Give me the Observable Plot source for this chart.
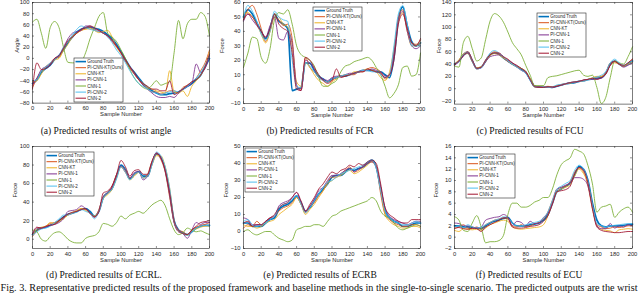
<!DOCTYPE html>
<html><head><meta charset="utf-8">
<script src="https://cdn.jsdelivr.net/npm/d3@7"></script>
<script src="https://cdn.jsdelivr.net/npm/@observablehq/plot@0.6"></script>
<style>
html,body{margin:0;padding:0;background:#fff;}
#fig{position:relative;width:640px;height:296px;overflow:hidden;background:#fff;}
#fig > svg{position:absolute;overflow:visible;}
</style></head><body><div id="fig"></div>
<script>
const sampleNumbers = [0,5,10,15,20,25,30,35,40,45,50,55,60,65,70,75,80,85,90,95,100,105,110,115,120,125,130,135,140,145,150,155,160,165,170,175,180,185,190,195,200];
const seriesNames = ["Ground Truth","PI-CNN-KT(Ours)","CNN-KT","PI-CNN-1","CNN-1","PI-CNN-2","CNN-2"];
const seriesColors = ["#0072BD","#D95319","#EDB120","#7E2F8E","#77AC30","#4DBEEE","#A2142F"];
const xTicks = [0,20,40,60,80,100,120,140,160,180,200];

// (a) wrist angle
const wristGT   = [-45,-38,-25,-18,-12,-2,5,15,28,38, 47,52,55,56,54,52,48,42,35,25, 12,-2,-15,-25,-35,-45,-52,-58,-62,-65, -65,-63,-62,-60,-55,-50,-45,-38,-30,-15, 0];
const wristPIKT = [-52,-36,-22,-15,-8,0,2,18,30,40, 45,50,53,55,50,48,45,40,30,20, 10,-5,-18,-28,-38,-48,-55,-60,-60,-64, -62,-58,-58,-62,-52,-48,-42,-35,-22,-8, 15];
const wristCNNKT= [-42,-40,-28,-15,-10,-3,0,14,25,38, 45,50,52,53,50,46,48,50,38,20, 8,-5,-15,-28,-38,-45,-52,-55,-58,-60, -62,-22,-60,-62,-58,-68,-50,-40,-30,-15, 12];
const wristPI1  = [-48,-35,-20,-15,-10,0,5,20,35,45, 48,50,58,58,52,50,45,40,32,22, 10,-5,-15,-28,-38,-48,-55,-62,-68,-70, -70,-68,-70,-62,-55,-50,-45,-10,-25,-18, 5];
const wristCNN1 = [65,70,45,18,55,66,55,20,-7,-8, -8,-6,10,35,55,75,82,45,38,30, 15,0,-20,-35,-45,-52,-55,-48,-40,-48, -45,-42,10,68,35,62,70,70,82,75, 40];
const wristPI2  = [-40,-38,-22,-15,-8,-2,5,20,30,42, 52,58,55,52,50,48,45,38,28,15, 5,-8,-22,-35,-45,-50,-55,-60,-62,-65, -62,-60,-58,-60,-55,-50,-42,-35,-25,-12, 5];
const wristCNN2 = [-55,-8,-20,-18,-12,0,5,18,32,38, 45,52,55,58,55,50,45,40,32,22, 10,-2,-15,-25,-38,-45,-50,-55,-55,-58, -58,-40,-65,-60,-55,-48,-42,-38,-30,-15, 8];

// (b) FCR
const fcrGT   = [50,55,52,46,40,35,42,52,47,45, 42,-1,0,1,18,18,13,9,7,5, 7,8,9,9,10,11,12,13,13,13, 12,12,10,8,22,48,57,44,33,30, 32];
const fcrPIKT = [48,55,58,52,42,33,40,50,48,44, 45,35,2,0,22,15,12,8,6,5, 6,8,9,9,10,10,12,12,14,15, 14,12,7,10,25,50,55,42,32,31, 34];
const fcrCNNKT= [52,53,50,45,38,32,40,52,50,45, 43,30,5,2,18,15,10,6,4,2, 5,7,9,10,10,12,12,13,14,13, 12,8,6,12,28,47,53,40,30,30, 32];
const fcrPI1  = [47,52,48,44,40,36,44,50,35,34, 40,32,3,-1,20,18,14,8,7,6, 8,9,9,10,11,11,12,13,13,14, 13,12,9,10,25,48,54,40,30,28, 30];
const fcrCNN1 = [15,25,36,35,22,18,28,48,53,52, 55,45,30,24,22,20,16,8,2,2, 4,6,12,16,17,19,20,21,22,20, 15,10,2,-6,-3,3,15,16,9,10, 25];
const fcrPI2  = [50,58,54,47,38,34,40,54,50,48, 47,20,2,1,18,16,12,8,6,5, 7,8,9,10,10,11,12,13,13,12, 12,10,8,10,30,52,58,45,30,30, 30];
const fcrCNN2 = [48,52,50,45,40,36,42,52,45,42, 40,25,0,-1,22,20,15,10,6,4, 6,14,8,9,10,11,12,12,14,13, 12,11,8,10,20,45,52,42,32,30, 35];

// (c) FCU
const fcuGT   = [40,45,55,58,45,33,35,45,55,58, 56,50,45,40,36,32,27,15,4,3, 3,3,2,4,6,8,9,10,12,13, 15,16,17,18,25,40,45,40,37,40, 45];
const fcuPIKT = [38,46,57,60,46,32,34,47,56,60, 57,50,44,40,35,30,26,16,5,3, 4,2,2,5,7,8,10,11,12,14, 15,17,19,20,26,42,44,40,36,42, 48];
const fcuCNNKT= [40,47,56,57,44,34,36,44,54,57, 55,50,46,40,36,33,28,16,3,2, 3,4,3,5,6,8,9,11,12,13, 15,18,20,20,24,38,42,40,37,40, 43];
const fcuPI1  = [38,44,53,58,45,33,34,44,52,54, 55,52,46,42,36,30,26,14,4,3, 3,3,2,4,6,8,10,11,12,14, 15,15,16,17,24,38,45,40,35,38, 42];
const fcuCNN1 = [37,35,75,85,65,45,50,80,110,122, 118,108,92,75,65,55,38,22,5,5, 5,18,20,21,23,25,27,29,30,22, 20,22,2,-24,-14,18,45,42,40,52, 68];
const fcuPI2  = [40,45,56,60,47,32,34,46,58,62, 58,52,45,40,35,30,25,14,3,2, 3,2,3,6,7,8,10,11,12,13, 14,17,19,22,28,42,48,42,38,42, 45];
const fcuCNN2 = [40,45,54,60,47,33,35,46,55,58, 58,52,48,42,38,33,28,15,3,2, 2,3,3,4,6,8,10,11,12,14, 15,17,15,18,24,38,44,40,38,42, 48];

// (d) ECRL
const ecrlGT   = [5,10,12,13,15,17,20,24,27,28, 30,32,33,30,25,30,45,50,55,68, 80,75,65,70,73,68,68,82,92,88, 75,50,20,10,7,5,8,12,14,15, 15];
const ecrlPIKT = [3,9,12,14,17,18,20,23,26,28, 30,33,32,28,24,32,46,50,57,70, 78,72,66,70,72,66,70,84,92,86, 72,45,18,10,8,5,10,13,15,16, 18];
const ecrlCNNKT= [4,11,13,14,18,17,19,22,26,29, 31,33,31,28,25,30,44,48,54,66, 78,74,64,68,72,66,68,80,90,90, 78,55,20,8,6,4,9,11,13,14, 14];
const ecrlPI1  = [5,12,12,13,15,16,18,22,30,31, 32,36,33,28,24,30,46,50,56,68, 79,74,66,72,73,64,68,82,93,88, 74,48,18,8,6,1,10,18,16,18, 18];
const ecrlCNN1 = [10,8,0,-2,3,7,8,5,0,-3, -4,-4,1,3,4,8,17,16,14,18, 25,22,26,28,30,28,32,37,40,42, 36,22,10,5,7,12,10,8,9,7, 5];
const ecrlPI2  = [4,8,11,12,14,18,22,26,26,28, 29,32,30,28,22,30,44,50,54,65, 78,72,64,70,72,66,68,80,94,90, 78,55,20,10,6,4,8,12,14,15, 14];
const ecrlCNN2 = [6,13,12,14,15,16,20,24,27,29, 30,32,33,28,24,30,50,52,58,70, 85,78,68,74,75,70,70,84,93,88, 74,50,20,10,6,5,10,14,18,19, 20];

// (e) ECRB
const ecrbGT   = [5,5,3,3,3,5,7,8,13,15, 16,18,21,17,12,14,18,22,25,28, 32,33,33,35,37,36,37,38,40,42, 38,25,12,8,6,5,3,3,4,5, 5];
const ecrbPIKT = [2,4,3,6,4,6,8,9,12,14, 15,17,20,16,11,15,17,21,24,29, 32,32,34,36,38,35,36,38,40,41, 38,22,10,7,5,4,3,3,4,4, 3];
const ecrbCNNKT= [4,3,3,2,3,5,6,7,10,12, 14,16,20,16,10,13,16,20,24,28, 30,32,33,35,36,34,35,37,39,41, 38,25,10,6,4,3,2,2,3,3, 2];
const ecrbPI1  = [8,7,4,4,4,6,8,9,15,17, 18,20,23,17,12,15,19,24,26,30, 33,33,34,36,37,35,37,38,40,41, 38,26,14,9,7,6,5,4,5,6, 6];
const ecrbCNN1 = [0,1,-1,-2,-1,0,0,-2,-4,-5, -6,-5,1,2,3,3,4,4,3,6, 9,10,12,13,14,15,16,17,18,20, 18,12,9,8,5,2,1,2,3,4, 3];
const ecrbPI2  = [6,7,4,3,4,5,7,9,14,16, 17,19,21,16,11,14,18,22,26,29, 30,32,34,35,36,37,38,39,41,42, 37,24,12,8,6,5,4,4,5,6, 5];
const ecrbCNN2 = [5,6,3,4,4,6,8,10,14,16, 17,20,23,18,12,16,20,25,28,32, 35,34,36,37,39,38,40,39,41,42, 40,28,14,10,8,6,5,5,7,7, 7];

// (f) ECU
const ecuGT   = [2,2,1.8,1.8,1.7,1.6,1.5,2,2.5,2.8, 3,3.3,3.5,2.5,2,2,2,2.2,2.3,2.5, 3,4,6,8,8.5,9,9.5,11,12.5,12, 10,6,3,2,1.8,2,2,2,2.1,2.2, 2.3];
const ecuPIKT = [1.5,1.8,2.2,1.6,1.5,1.8,1.4,2.2,2.6,3, 3.2,3.4,3.2,2,1.8,2.2,1.9,2,2.4,2.6, 3.2,4.5,6.5,8.5,8.8,9,9.8,11.5,12.2,11.5, 9,5,2.2,1.8,1.5,1.6,1.8,1.7,1.8,2, 2];
const ecuCNNKT= [1.2,1,1.5,1.4,1.3,1.4,1.2,1.6,2.2,2.5, 2.8,3,2.8,1.8,1.5,1.4,1.5,1.6,1.7,1.8, 2.2,3.8,6,8,8.5,8.8,9.3,10.8,12,11.2, 9.5,5.5,2,1.4,1.2,1.1,0.8,1.3,1.4,1.5, 1.4];
const ecuPI1  = [2.5,2.4,2,2,1.8,1.6,1.8,3,3.3,3.5, 3.6,4,3.5,2,2.8,2.6,2,2.8,2.4,2.5, 3.5,4.2,6,8.4,8.8,9.2,9.6,10.5,10.5,10.2, 9,5.5,2,1.5,1.5,2.4,1.6,2,1.8,2.2, 2];
const ecuCNN1 = [3.6,3,1.2,1,2.5,3.8,1.8,-1,-0.8,-0.8, -0.6,0.3,4,6,6,5.3,5.3,5.6,6.2,6.5, 7,7,8.5,11,12.8,13.5,14,15.5,15.2,14.7, 12.6,9.4,4.4,5.3,5.5,5.8,3.5,4.4,5,5.3, 4.4];
const ecuPI2  = [1.8,2,1.7,2.2,1.8,1.6,1.8,2.2,2.6,3, 3.2,3.6,3.4,2.5,2,2,2.2,2.4,2.6,2.8, 3.4,4.5,6.5,8.5,9,9.5,10,11.8,12.7,12, 9.8,5.5,2.4,2,1.8,2,2.1,2.2,2.3,2.4, 2.4];
const ecuCNN2 = [1.6,1.7,1.5,1.4,1.6,1.5,1,1.8,2.2,2.6, 3,3.4,3.4,1.8,1.6,1.6,1.7,1.9,2,2.2, 2.8,3.8,5.8,8,8.2,8.4,9,11.2,12.3,11.8, 9.5,5,1.8,1.2,1,0.9,0.8,0.8,0.9,1, 1];

const wristTicks = [-80,-60,-40,-20,0,20,40,60,80,100];
const fcrTicks = [-10,0,10,20,30,40,50,60];
const fcuTicks = [-20,0,20,40,60,80,100,120,140];
const ecrlTicks = [0,20,40,60,80,100];
const ecrbTicks = [-10,0,10,20,30,40,50];
const ecuTicks = [-2,0,2,4,6,8,10,12,14,16];

const captions = ["(a) Predicted results of wrist angle","(b) Predicted results of FCR","(c) Predicted results of FCU",
  "(d) Predicted results of ECRL.","(e) Predicted results of ECRB","(f) Predicted results of ECU"];
const figCaption = "Fig. 3.  Representative predicted results of the proposed framework and baseline methods in the single-to-single scenario. The predicted outputs are the wrist";

const panels = [
  {values:[wristGT,wristPIKT,wristCNNKT,wristPI1,wristCNN1,wristPI2,wristCNN2], domain:[-80,100], ticks:wristTicks, ylabel:"Angle", left:32, right:209, top:2.4, bottom:103, ylabOff:15, legend:[74,58]},
  {values:[fcrGT,fcrPIKT,fcrCNNKT,fcrPI1,fcrCNN1,fcrPI2,fcrCNN2], domain:[-10,60], ticks:fcrTicks, ylabel:"Force", left:243, right:420, top:2.4, bottom:103.5, ylabOff:21, legend:[313,7]},
  {values:[fcuGT,fcuPIKT,fcuCNNKT,fcuPI1,fcuCNN1,fcuPI2,fcuCNN2], domain:[-25,140], ticks:fcuTicks, ylabel:"Force", left:454, right:632, top:2.4, bottom:104, ylabOff:15, legend:[537,13]},
  {values:[ecrlGT,ecrlPIKT,ecrlCNNKT,ecrlPI1,ecrlCNN1,ecrlPI2,ecrlCNN2], domain:[-10,100], ticks:ecrlTicks, ylabel:"Force", left:32, right:209, top:146, bottom:248, ylabOff:17, legend:[45,152]},
  {values:[ecrbGT,ecrbPIKT,ecrbCNNKT,ecrbPI1,ecrbCNN1,ecrbPI2,ecrbCNN2], domain:[-10,50], ticks:ecrbTicks, ylabel:"Force", left:243, right:420, top:146, bottom:248, ylabOff:17, legend:[245,148]},
  {values:[ecuGT,ecuPIKT,ecuCNNKT,ecuPI1,ecuCNN1,ecuPI2,ecuCNN2], domain:[-2,16], ticks:ecuTicks, ylabel:"Force", left:454, right:632, top:146, bottom:248, ylabOff:18, legend:[466,154]}
];

const fig = document.getElementById("fig");
const ML = 30, MR = 6, MT = 6, MB = 22;
const axisColor = "#262626";
const sansFont = "'Liberation Sans', Arial, sans-serif";

panels.forEach(p => {
  const W = p.right - p.left, H = p.bottom - p.top;
  const marks = [];
  p.values.forEach((vals, i) => {
    marks.push(Plot.line(vals, {x: (d, j) => sampleNumbers[j], y: d => d, stroke: seriesColors[i],
      strokeWidth: i === 0 ? 1.7 : 0.85, curve: "monotone-x"}));
  });
  marks.push(
    Plot.frame({stroke: axisColor, strokeWidth: 0.6}),
    Plot.tickX(xTicks, {x: d => d, insetTop: H - 2, stroke: axisColor, strokeWidth: 0.5}),
    Plot.tickX(xTicks, {x: d => d, insetBottom: H - 2, stroke: axisColor, strokeWidth: 0.5}),
    Plot.tickY(p.ticks, {y: d => d, insetRight: W - 2, stroke: axisColor, strokeWidth: 0.5}),
    Plot.tickY(p.ticks, {y: d => d, insetLeft: W - 2, stroke: axisColor, strokeWidth: 0.5}),
    Plot.axisX(xTicks, {anchor: "bottom", tickSize: 0, tickPadding: 3, label: null, fontSize: 5.8, fill: axisColor}),
    Plot.axisY(p.ticks, {anchor: "left", tickSize: 0, tickPadding: 3, label: null, fontSize: 5.8, fill: axisColor}),
    Plot.text(["Sample Number"], {frameAnchor: "bottom", dy: 13, text: d => d, fontSize: 5.8, fill: axisColor}),
    Plot.text([p.ylabel], {frameAnchor: "left", dx: -p.ylabOff, rotate: -90, text: d => d, fontSize: 5.8, fill: axisColor})
  );
  const chart = Plot.plot({
    width: ML + W + MR, height: MT + H + MB,
    marginLeft: ML, marginRight: MR, marginTop: MT, marginBottom: MB,
    x: {domain: [0, 200]},
    y: {domain: p.domain},
    style: {fontFamily: sansFont, background: "transparent", overflow: "visible"},
    marks
  });
  chart.style.left = (p.left - ML) + "px";
  chart.style.top = (p.top - MT) + "px";
  fig.appendChild(chart);
});

// overlay: legends and captions
const ov = d3.select(fig).append("svg")
  .attr("width", 640).attr("height", 296)
  .style("left", "0px").style("top", "0px");

panels.forEach(p => {
  const [lx, ly] = p.legend;
  const g = ov.append("g").attr("transform", `translate(${lx},${ly})`);
  g.append("rect").attr("width", 49).attr("height", 44).attr("fill", "#fff")
    .attr("stroke", axisColor).attr("stroke-width", 0.6);
  seriesNames.forEach((name, i) => {
    const y = 3.6 + i * 6.1;
    g.append("line").attr("x1", 1.5).attr("x2", 12).attr("y1", y).attr("y2", y)
      .attr("stroke", seriesColors[i]).attr("stroke-width", i === 0 ? 1.6 : 1);
    g.append("text").attr("x", 13.2).attr("y", y).attr("dy", "0.35em")
      .attr("font-family", sansFont).attr("font-size", 4.5).attr("fill", axisColor).text(name);
  });
});

const capCenters = [106, 320, 530, 104, 320, 529];
const capBase = [133.5, 133.5, 133.5, 277.5, 277.5, 277.5];
captions.forEach((c, i) => {
  ov.append("text").attr("x", capCenters[i]).attr("y", capBase[i]).attr("text-anchor", "middle")
    .attr("font-family", "'Liberation Serif', 'Times New Roman', serif").attr("font-size", 9.5)
    .attr("fill", "#111").text(c);
});
ov.append("text").attr("x", 0.5).attr("y", 290.5)
  .attr("font-family", "'Liberation Serif', 'Times New Roman', serif").attr("font-size", 9.3)
  .attr("textLength", 637).attr("lengthAdjust", "spacingAndGlyphs")
  .attr("fill", "#111").text(figCaption);
</script></body></html>
